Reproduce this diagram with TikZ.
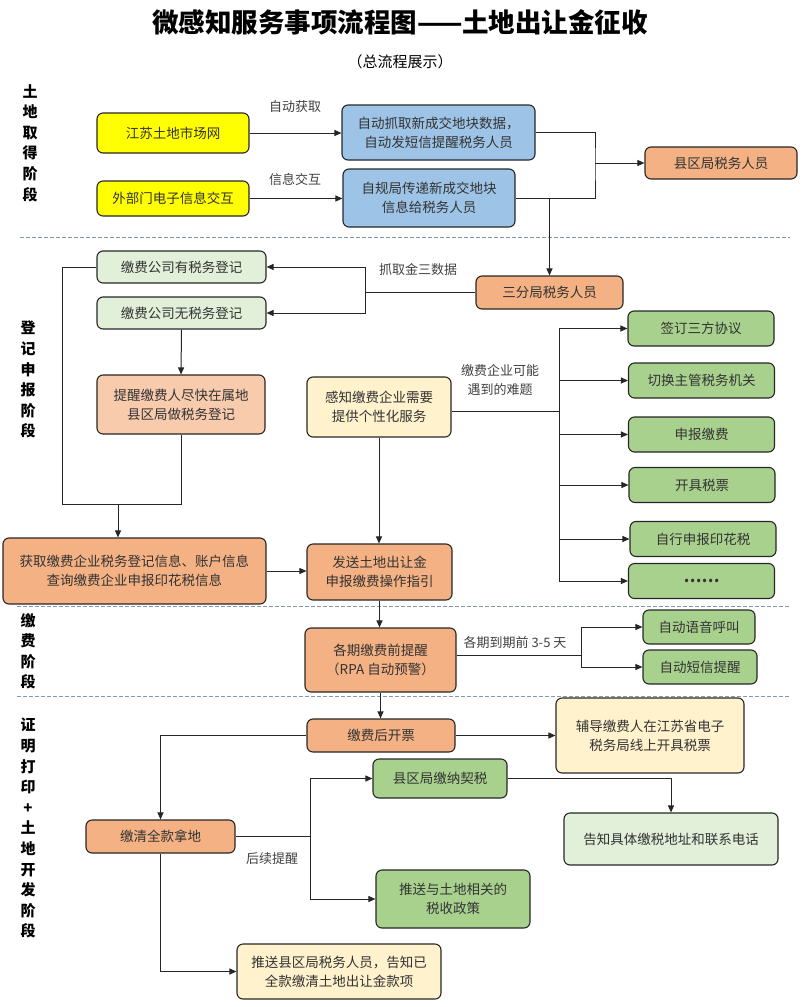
\documentclass[tikz,border=0pt]{standalone}
\usepackage{fontspec}
\setmainfont{Noto Sans CJK SC}
\usetikzlibrary{arrows.meta,calc}
\definecolor{cyel}{HTML}{FFFF00}
\definecolor{cblue}{HTML}{9DC3E6}
\definecolor{corange}{HTML}{F4B183}
\definecolor{clgreen}{HTML}{E2F0D9}
\definecolor{csalmon}{HTML}{F8CBAD}
\definecolor{clyellow}{HTML}{FFF2CC}
\definecolor{cgreen}{HTML}{A9D18E}
\definecolor{csep}{HTML}{8497B0}
\definecolor{ctext}{HTML}{333333}
\begin{document}
\begin{tikzpicture}[x=1pt,y=-1pt,
  box/.style={draw=black!85,line width=1.1pt,rounded corners=6pt,inner sep=0pt,
    align=center,text=ctext,font=\fontsize{13.5}{19}\selectfont},
  arr/.style={-{Triangle[length=7pt,width=6pt]},line width=1pt,draw=black!85},
  ln/.style={line width=1pt,draw=black!85},
  lbl/.style={text=black!75,font=\fontsize{13}{19}\selectfont,align=center,inner sep=0pt},
  side/.style={font=\bfseries\fontsize{15}{20.6}\selectfont,align=center,inner sep=0pt,anchor=north},
  sep/.style={draw=csep,line width=0.9pt,dash pattern=on 4pt off 2pt}]
\useasboundingbox (0,0) rectangle (805,1007);

% titles
\node[font=\bfseries\fontsize{26.5}{30}\selectfont] (title) at (400,22) {微感知服务事项流程图——土地出让金征收};
\node[font=\fontsize{15}{18}\selectfont] (subtitle) at (400,62) {（总流程展示）};

% side labels
\node[side] (s1) at (30,84) {土\\地\\取\\得\\阶\\段};
\node[side] (s2) at (28,321) {登\\记\\申\\报\\阶\\段};
\node[side] (s3) at (28,613) {缴\\费\\阶\\段};
\node[side] (s4) at (28,718) {证\\明\\打\\印\\+\\土\\地\\开\\发\\阶\\段};

% separators
\draw[sep] (20,237) -- (790,237);
\draw[sep] (17,606) -- (790,606);
\draw[sep] (17,696) -- (790,696);

% stage 1
\node[box,fill=cyel,minimum width=152pt,minimum height=40pt] (n1) at (173,133) {江苏土地市场网};
\node[box,fill=cyel,minimum width=152pt,minimum height=35pt] (n2) at (173,198.5) {外部门电子信息交互};
\node[box,fill=cblue,minimum width=193pt,minimum height=55pt] (n3) at (438.5,132.5) {自动抓取新成交地块数据，\\自动发短信提醒税务人员};
\node[box,fill=cblue,minimum width=172pt,minimum height=58pt] (n4) at (429,198) {自规局传递新成交地块\\信息给税务人员};
\node[box,fill=corange,minimum width=152pt,minimum height=32pt] (n5) at (721,163) {县区局税务人员};
\node[box,fill=corange,minimum width=147pt,minimum height=33pt] (n6) at (549.5,292.5) {三分局税务人员};

\draw[arr] (n1.east) -- (n1.east -| n3.west);
\draw[arr] (n2.east) -- (n2.east -| n4.west);
\node[lbl] (l1) at (295,107) {自动获取};
\node[lbl] (l2) at (295,180) {信息交互};
\coordinate (j1) at (595,163);
\draw[ln] (n3.east) -| (j1) |- (n4.east);
\draw[arr] (j1) -- (n5.west);
\draw[arr] (n6.north |- n4.east) -- (n6.north);

% stage 2
\node[box,fill=clgreen,minimum width=169pt,minimum height=32pt] (n7) at (181.5,267) {缴费公司有税务登记};
\node[box,fill=clgreen,minimum width=169pt,minimum height=32pt] (n8) at (181.5,313) {缴费公司无税务登记};
\node[box,fill=csalmon,minimum width=168pt,minimum height=59pt] (n9) at (181,404.5) {提醒缴费人尽快在属地\\县区局做税务登记};
\node[box,fill=clyellow,minimum width=144pt,minimum height=60pt] (n10) at (379,407) {感知缴费企业需要\\提供个性化服务};
\node[box,fill=corange,minimum width=263pt,minimum height=66pt] (n11) at (134.5,571) {获取缴费企业税务登记信息、账户信息\\查询缴费企业申报印花税信息};
\node[box,fill=corange,minimum width=145pt,minimum height=56pt] (n12) at (379.5,572) {发送土地出让金\\申报缴费操作指引};

\coordinate (j2) at (365,292.5);
\draw[ln] (n6.west) -- (j2);
\draw[arr] (j2) |- (n7.east);
\draw[arr] (j2) |- (n8.east);
\node[lbl] (l3) at (418,270) {抓取金三数据};

\coordinate (c62) at (62,504);
\draw[ln] (n7.west) -| (c62) -| (n9.south);
\coordinate (j3) at (118,504);
\draw[arr] (j3) -- (j3 |- n11.north);
\draw[arr] (n8.south) -- (n9.north);
\draw[arr] (n10.south) -- (n10.south |- n12.north);
\draw[arr] (n11.east) -- (n11.east -| n12.west);

\node[box,fill=cgreen,minimum width=146pt,minimum height=35pt] (g1) at (701,328.5) {签订三方协议};
\node[box,fill=cgreen,minimum width=146pt,minimum height=35pt] (g2) at (701.5,380.5) {切换主管税务机关};
\node[box,fill=cgreen,minimum width=146pt,minimum height=35pt] (g3) at (701.5,434.5) {申报缴费};
\node[box,fill=cgreen,minimum width=146pt,minimum height=35pt] (g4) at (702,485) {开具税票};
\node[box,fill=cgreen,minimum width=146pt,minimum height=35pt] (g5) at (703,539) {自行申报印花税};
\node[box,fill=cgreen,minimum width=146pt,minimum height=35pt] (g6) at (701.5,581) {\bfseries\fontsize{16}{19}\selectfont ……};

\coordinate (j4) at (559,411);
\draw[ln] ($(n10.east)+(0,4)$) -- (j4);
\foreach \g in {g1,g2,g3,g4,g5,g6} {\draw[arr] (j4) |- (\g.west);}
\node[lbl] (l4) at (500,380) {缴费企业可能\\遇到的难题};

% stage 3
\node[box,fill=corange,minimum width=151pt,minimum height=64pt] (n13) at (380.5,660) {各期缴费前提醒\hspace{1em}\\（RPA 自动预警）};
\node[box,fill=cgreen,minimum width=112pt,minimum height=34pt] (n14) at (699,627) {自动语音呼叫};
\node[box,fill=cgreen,minimum width=114pt,minimum height=34pt] (n15) at (700,667) {自动短信提醒};
\draw[arr] (n12.south) -- (n12.south |- n13.north);
\coordinate (j5) at (581,655);
\draw[ln] (n13.east |- j5) -- (j5);
\draw[arr] (j5) |- (n14.west);
\draw[arr] (j5) |- (n15.west);
\node[lbl] (l5) at (515,643) {各期到期前 3-5 天};

% stage 4
\node[box,fill=corange,minimum width=148pt,minimum height=33pt] (n16) at (381,735.5) {缴费后开票};
\node[box,fill=clyellow,minimum width=188pt,minimum height=75pt] (n17) at (650,735.5) {辅导缴费人在江苏省电子\\税务局线上开具税票};
\node[box,fill=corange,minimum width=149pt,minimum height=33pt] (n18) at (160.5,836.5) {缴清全款拿地};
\node[box,fill=cgreen,minimum width=134pt,minimum height=39pt] (n19) at (440,778.5) {县区局缴纳契税};
\node[box,fill=clgreen,minimum width=214pt,minimum height=52pt] (n20) at (671,839) {告知具体缴税地址和联系电话};
\node[box,fill=cgreen,minimum width=154pt,minimum height=58pt] (n21) at (453,899) {推送与土地相关的\\税收政策};
\node[box,fill=clyellow,minimum width=204pt,minimum height=55pt] (n22) at (339,971.5) {推送县区局税务人员，告知已\\全款缴清土地出让金款项};

\draw[arr] (n13.south) -- (n13.south |- n16.north);
\draw[arr] (n16.east) -- (n16.east -| n17.west);
\draw[arr] (n16.west) -| (n18.north);
\coordinate (j6) at (310,836.5);
\draw[ln] (n18.east) -- (j6);
\draw[arr] (j6) |- (n19.west);
\draw[arr] (j6) |- (n21.west);
\node[lbl] (l6) at (272,859) {后续提醒};
\draw[arr] (n19.east) -| (n20.north);
\draw[arr] (n18.south) |- (n22.west);
\end{tikzpicture}
\end{document}
